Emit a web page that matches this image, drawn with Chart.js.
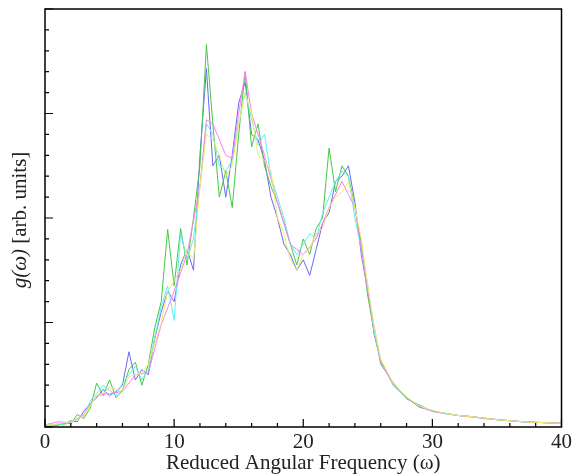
<!DOCTYPE html>
<html>
<head>
<meta charset="utf-8">
<script src="https://cdn.jsdelivr.net/npm/chart.js@4.4.0/dist/chart.umd.min.js"></script>
<style>
  html, body { margin: 0; padding: 0; background: #fff; }
  #wrap { width: 575px; height: 476px; }
</style>
</head>
<body>
<div id="wrap"><canvas id="dos"></canvas></div>
<script>
// frequency grid shared by the noisy runs
const freq = [
  0, 0.5, 1, 1.5, 2, 2.5, 3, 3.5, 4, 4.5, 5, 5.5, 6, 6.5, 7, 7.5, 8, 8.5, 9, 9.5,
  10, 10.5, 11, 11.5, 12, 12.5, 13, 13.5, 14, 14.5, 15, 15.5, 16, 16.5, 17, 17.5,
  18, 18.5, 19, 19.5, 20, 20.5, 21, 21.5, 22, 22.5, 23, 23.5, 24, 24.5, 25, 25.5, 26,
  27, 28, 29, 30, 31, 32, 33, 34, 35, 36, 37, 38, 39, 40
];

const yellowG = [
  0.02, 0.02, 0.03, 0.04, 0.05, 0.07, 0.11, 0.2, 0.3, 0.32, 0.38, 0.36, 0.35, 0.48, 0.5, 0.52, 0.6, 0.8, 1.0, 1.3,
  1.4, 1.5, 1.7, 1.6, 2.3, 2.8, 2.75, 2.6, 2.4, 2.5, 2.9, 3.2, 3.0, 2.6, 2.55, 2.45,
  2.0, 1.85, 1.6, 1.5, 1.65, 1.7, 1.85, 1.9, 2.1, 2.2, 2.25, 2.35, 2.1, 1.8, 1.35, 0.95, 0.65,
  0.41, 0.29, 0.2, 0.16, 0.13, 0.11, 0.1, 0.085, 0.07, 0.06, 0.05, 0.045, 0.04, 0.035
];

const greenG = [
  0.01, 0.02, 0.02, 0.04, 0.03, 0.12, 0.08, 0.18, 0.42, 0.3, 0.45, 0.28, 0.35, 0.55, 0.62, 0.4, 0.6, 0.95, 1.2, 1.89,
  1.35, 1.9, 1.55, 2.0, 2.5, 3.66, 2.9, 2.2, 2.45, 2.1, 2.8, 3.4, 2.68, 2.9, 2.5, 2.3,
  2.15, 1.95, 1.75, 1.55, 1.8, 1.65, 1.9, 2.0, 2.67, 2.25, 2.5, 2.4, 2.1, 1.75, 1.25, 0.92, 0.6,
  0.42, 0.27, 0.21, 0.15, 0.13, 0.11, 0.1, 0.08, 0.07, 0.06, 0.05, 0.045, 0.04, 0.035
];

const cyanG = [
  0.01, 0.01, 0.03, 0.02, 0.05, 0.08, 0.1, 0.25, 0.32, 0.4, 0.35, 0.3, 0.42, 0.5, 0.58, 0.45, 0.55, 0.85, 1.15, 1.35,
  1.02, 1.85, 1.6, 1.8, 2.3, 2.9, 2.8, 2.5, 2.45, 2.55, 2.9, 3.2, 2.95, 2.7, 2.8, 2.4,
  2.2, 2.0, 1.75, 1.65, 1.75, 1.85, 1.8, 2.05, 2.2, 2.35, 2.45, 2.4, 2.0, 1.7, 1.35, 0.9, 0.63,
  0.39, 0.28, 0.2, 0.15, 0.125, 0.11, 0.095, 0.085, 0.07, 0.06, 0.05, 0.045, 0.04, 0.035
];

const blueG = [
  0.0, 0.01, 0.02, 0.03, 0.06, 0.05, 0.15, 0.22, 0.28, 0.36, 0.3, 0.34, 0.4, 0.72, 0.45, 0.55, 0.5, 0.85, 1.1, 1.3,
  1.2, 1.55, 1.7, 1.5, 2.6, 3.43, 2.5, 2.6, 2.2, 2.6, 3.1, 3.3, 2.8, 2.75, 2.55, 2.2,
  2.0, 1.75, 1.65, 1.5, 1.6, 1.45, 1.7, 1.95, 2.05, 2.35, 2.4, 2.5, 2.15, 1.65, 1.3, 0.88, 0.64,
  0.4, 0.28, 0.19, 0.155, 0.13, 0.11, 0.1, 0.085, 0.07, 0.06, 0.05, 0.045, 0.04, 0.035
];

// coarser averaged curve
const magentaFreq = [0, 1, 2, 3, 4, 5, 6, 7, 8, 9, 10, 11, 12, 12.5, 13, 14, 14.5, 15, 15.5, 16, 17, 18, 19, 20, 21, 22, 23, 24, 25, 26, 27, 28, 29, 30, 32, 34, 36, 38, 40];
const magentaG = [0.02, 0.05, 0.04, 0.12, 0.3, 0.32, 0.34, 0.5, 0.52, 0.98, 1.3, 1.65, 2.3, 2.94, 2.9, 2.6, 2.57, 3.0, 3.4, 3.0, 2.6, 2.15, 1.75, 1.65, 1.8, 2.1, 2.35, 2.1, 1.3, 0.62, 0.4, 0.28, 0.2, 0.15, 0.11, 0.085, 0.06, 0.045, 0.035];

const xTicks = [0, 10, 20, 30, 40];

const serif = '"Liberation Serif", "Times New Roman", serif';

function pts(xs, ys) {
  return xs.map((x, i) => ({x: x, y: ys[i]}));
}

function line(data, color) {
  return {
    data: data,
    borderColor: color,
    borderWidth: 1,
    pointRadius: 0,
    tension: 0,
    fill: false
  };
}

// frame, inward ticks and the y title
const framePlugin = {
  id: 'frame',
  afterDraw(chart) {
    const ctx = chart.ctx;
    const a = chart.chartArea;
    const xs = chart.scales.x;
    const ys = chart.scales.y;
    ctx.save();
    ctx.strokeStyle = '#000';
    ctx.lineWidth = 1.5;
    ctx.strokeRect(a.left, a.top, a.right - a.left, a.bottom - a.top);

    ctx.lineWidth = 1.2;
    ctx.beginPath();
    for (let v = 0; v <= 40; v += 2) {
      const px = xs.getPixelForValue(v);
      const len = v % 10 === 0 ? 8 : 4;
      ctx.moveTo(px, a.bottom);
      ctx.lineTo(px, a.bottom - len);
    }
    for (let k = 0; k <= 20; k++) {
      const py = ys.getPixelForValue(k * 0.2);
      const len = k % 5 === 0 ? 8 : 4;
      ctx.moveTo(a.left, py);
      ctx.lineTo(a.left + len, py);
    }
    ctx.stroke();

    // y title: italic g(ω) then plain text
    const cx = 20;
    const cy = (a.top + a.bottom) / 2 + 2;
    ctx.translate(cx, cy);
    ctx.rotate(-Math.PI / 2);
    ctx.fillStyle = '#222';
    ctx.textBaseline = 'middle';
    const italic = 'italic 21px ' + serif;
    const plain = '21px ' + serif;
    const p1 = 'g(ω)';
    const p2 = ' [arb. units]';
    ctx.font = italic;
    const w1 = ctx.measureText(p1).width;
    ctx.font = plain;
    const w2 = ctx.measureText(p2).width;
    const sx = -(w1 + w2) / 2;
    ctx.font = italic;
    ctx.textAlign = 'left';
    ctx.fillText(p1, sx, 0);
    ctx.font = plain;
    ctx.fillText(p2, sx + w1, 0);
    ctx.restore();
  }
};

const config = {
  type: 'line',
  data: {
    datasets: [
      line(pts(freq, yellowG), '#eded6a'),
      line(pts(magentaFreq, magentaG), '#ff7ff0'),
      line(pts(freq, cyanG), '#5ff0f0'),
      line(pts(freq, greenG), '#45c845'),
      line(pts(freq, blueG), '#6a6af0')
    ]
  },
  options: {
    responsive: true,
    maintainAspectRatio: false,
    animation: false,
    layout: { padding: { top: 9, right: 10, left: 0, bottom: 0 } },
    plugins: {
      legend: { display: false },
      tooltip: { enabled: false }
    },
    scales: {
      x: {
        type: 'linear',
        min: 0,
        max: 40,
        afterBuildTicks: s => { s.ticks = xTicks.map(v => ({value: v})); },
        afterFit: s => { s.height = 49; },
        grid: { display: false, drawTicks: false },
        border: { display: false },
        ticks: {
          padding: 3,
          color: '#222',
          font: { family: serif, size: 21 }
        },
        title: {
          display: true,
          text: 'Reduced Angular Frequency (ω)',
          color: '#222',
          padding: { top: 0, bottom: 0 },
          font: { family: serif, size: 21 }
        }
      },
      y: {
        type: 'linear',
        min: 0,
        max: 4,
        afterFit: s => { s.width = 45; },
        grid: { display: false, drawTicks: false },
        border: { display: false },
        ticks: { display: false }
      }
    }
  },
  plugins: [framePlugin]
};

const dosChart = new Chart(document.getElementById('dos'), config);
</script>
</body>
</html>
